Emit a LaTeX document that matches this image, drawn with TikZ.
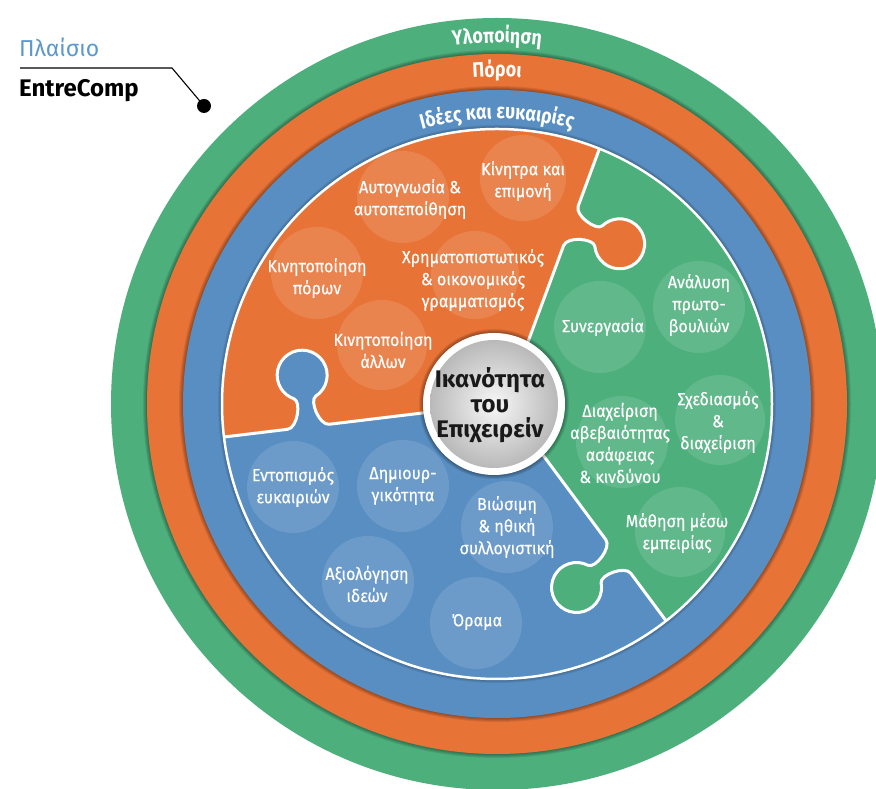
\documentclass[tikz,border=0pt]{standalone}
\usepackage{fontspec}
\setmainfont{Fira Sans}[FakeStretch=0.92, FakeBold=0.3]
\newfontfamily\ringfont{Fira Sans}[FakeStretch=0.85]
\newfontfamily\plainsans{Fira Sans}
\usetikzlibrary{decorations.text}
\definecolor{ecgreen}{RGB}{76,175,124}
\definecolor{ecorange}{RGB}{232,115,55}
\definecolor{ecblue}{RGB}{88,142,194}
\definecolor{eclabel}{RGB}{92,152,205}
\begin{document}
\begin{tikzpicture}[x=1pt,y=1pt,
  lbl/.style={text=white, align=center, font=\fontsize{17.5}{22}\selectfont, inner sep=0pt},
  bubble/.style={fill=white, fill opacity=0.12},
  seam/.style={draw=white, line width=3pt, line join=round},
  knobcurve/.style={insert path={.. controls (-11,0) and (-3.8,26) .. (-11,29.55) arc[start angle=243.9, end angle=-63.9, radius=25] .. controls (3.8,26) and (11,0) .. (21,0)}},
  framA/.style={shift={(570.9,563.2)}, rotate=69.7, yscale=-1},
  framB/.style={shift={(308.4,362.2)}, rotate=186.9, yscale=-1},
  framC/.style={shift={(618.3,232.5)}, rotate=-53.4, yscale=-1},
]
\useasboundingbox (0,0) rectangle (876,789);
\fill[white] (0,0) rectangle (876,789);
\coordinate (O) at (497,385);

% rings with soft shadows
\fill[ecgreen] (O) circle (386);
\foreach \w in {2,4,6,8} \draw[black, opacity=0.09, line width=\w] (O) circle (350);
\fill[ecorange] (O) circle (350);
\foreach \w in {2,4,6,8} \draw[black, opacity=0.09, line width=\w] (O) circle (314);
\fill[ecblue] (O) circle (314);
\foreach \w in {2,4,6,8} \draw[black, opacity=0.08, line width=\w] (O) circle (275);
\fill[ecblue] (O) circle (275);

% frames for the three seams
\begin{scope}[framA] \coordinate (Ain) at (-190,0); \coordinate (Aout) at (300,0); \end{scope}
\begin{scope}[framB] \coordinate (Bin) at (-190,0); \coordinate (Bout) at (300,0); \end{scope}
\begin{scope}[framC] \coordinate (Cin) at (-190,0); \coordinate (Cout) at (300,0); \end{scope}

\begin{scope}
  \clip (O) circle (275);
  \fill[ecorange] (Ain) -- (Aout) -- (66,937) -- (Bout) -- (Bin) -- cycle;
  \fill[ecgreen] (Cin) -- (Cout) -- (1190,482) -- (Aout) -- (Ain) -- cycle;
  \begin{scope}[framA] \fill[ecorange] (-21,-1) -- (-21,0) [knobcurve] -- (21,-1) -- cycle; \end{scope}
  \begin{scope}[framB] \fill[ecblue] (-21,-1) -- (-21,0) [knobcurve] -- (21,-1) -- cycle; \end{scope}
  \begin{scope}[framC] \fill[ecgreen] (-21,-1) -- (-21,0) [knobcurve] -- (21,-1) -- cycle; \end{scope}
  % light bubbles
  \fill[bubble] (523,611) circle (43);
  \fill[bubble] (403,592) circle (46);
  \fill[bubble] (317,516) circle (46);
  \fill[bubble] (475,514) circle (44);
  \fill[bubble] (382,444) circle (45);
  \fill[bubble] (600,462) circle (46);
  \fill[bubble] (699,482) circle (46);
  \fill[bubble] (720,369) circle (45);
  \fill[bubble] (622,347) circle (46);
  \fill[bubble] (680,257) circle (45);
  \fill[bubble] (293,302) circle (46);
  \fill[bubble] (403,303) circle (46);
  \fill[bubble] (507,262) circle (46);
  \fill[bubble] (368,207) circle (46);
  \fill[bubble] (476,166) circle (46);
  % seams
  \begin{scope}[framA] \draw[seam] (-200,0) -- (-21,0) [knobcurve] -- (150,0); \end{scope}
  \begin{scope}[framB] \draw[seam] (-200,0) -- (-21,0) [knobcurve] -- (150,0); \end{scope}
  \begin{scope}[framC] \draw[seam] (-200,0) -- (-21,0) [knobcurve] -- (150,0); \end{scope}
\end{scope}
\draw[white, line width=2.5] (O) circle (275);

% centre disc
\foreach \w in {2,4,6,8} \draw[black, opacity=0.09, line width=\w] (494,385) circle (71);
\fill[white] (494,385) circle (71);
\shade[inner color=gray!6, outer color=gray!55] (494,385) circle (64);

% piece labels
\node[lbl] (k1) at (523,608) {Κίνητρα και\\επιμονή};
\node[lbl] (k2) at (410,590) {Αυτογνωσία \&\\αυτοπεποίθηση};
\node[lbl] (k3) at (317,511) {Κινητοποίηση\\πόρων};
\node[lbl] (k4) at (473,509) {Χρηματοπιστωτικός\\\& οικονομικός\\γραμματισμός};
\node[lbl] (k5) at (383,439) {Κινητοποίηση\\άλλων};
\node[lbl] (g1) at (603,462) {Συνεργασία};
\node[lbl] (g2) at (699,484) {Ανάλυση\\πρωτο-\\βουλιών};
\node[lbl] (g3) at (718,367) {Σχεδιασμός\\\&\\διαχείριση};
\node[lbl] (g4) at (620,346) {Διαχείριση\\αβεβαιότητας\\ασάφειας\\\& κινδύνου};
\node[lbl] (g5) at (677,256) {Μάθηση μέσω\\εμπειρίας};
\node[lbl] (b1) at (293,302) {Εντοπισμός\\ευκαιριών};
\node[lbl] (b2) at (403,303) {Δημιουρ-\\γικότητα};
\node[lbl] (b3) at (507,262) {Βιώσιμη\\\& ηθική\\συλλογιστική};
\node[lbl] (b4) at (367,205) {Αξιολόγηση\\ιδεών};
\node[lbl] (b5) at (477,167) {Όραμα};

\node[align=center, text=black!90, inner sep=0pt, font=\plainsans\bfseries\fontsize{24}{25}\selectfont] (core) at (490,384) {Ικανότητα\\του\\Επιχειρείν};

% ring titles
\path[decorate, decoration={text along path, text align=center,
  text={|\ringfont\bfseries\fontsize{21}{21}\selectfont\color{white}|Υλοποίηση}}]
  (O) ++(150:361) arc[start angle=150, end angle=30, radius=361];
\path[decorate, decoration={text along path, text align=center,
  text={|\ringfont\bfseries\fontsize{21}{21}\selectfont\color{white}|Πόροι}}]
  (O) ++(150:327) arc[start angle=150, end angle=30, radius=327];
\path[decorate, decoration={text along path, text align=center,
  text={|\ringfont\bfseries\fontsize{21}{21}\selectfont\color{white}|Ιδέες και ευκαιρίες}}]
  (O) ++(150:285) arc[start angle=150, end angle=30, radius=285];

% frame label
\node[anchor=base west, inner sep=0pt, text=eclabel, font=\plainsans\fontsize{23}{23}\selectfont] (fr) at (19,732) {Πλαίσιο};
\node[anchor=base west, inner sep=0pt, font=\plainsans\bfseries\fontsize{24}{24}\selectfont] (ecname) at (19,692) {EntreComp};
\coordinate (l1) at (20,721);
\coordinate (l2) at (172,721);
\node[circle, fill=black, minimum size=14pt, inner sep=0pt] (dot) at (204,683) {};
\draw[line width=1.1pt] (l1) -- (l2) -- (dot.center);
\end{tikzpicture}
\end{document}
